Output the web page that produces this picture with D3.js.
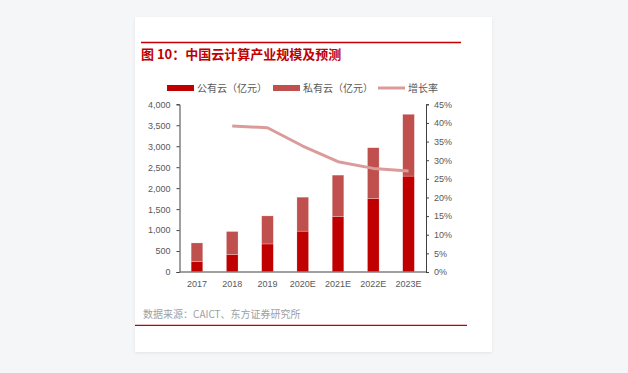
<!DOCTYPE html>
<html>
<head>
<meta charset="utf-8">
<script src="https://cdn.jsdelivr.net/npm/d3@7"></script>
<style>
  html, body { margin: 0; padding: 0; background: #f5f6f8; }
  #card {
    position: absolute; left: 135px; top: 17px; width: 357px; height: 335px;
    background: #fff; box-shadow: 0 1px 3px rgba(0,0,0,0.08);
  }
  svg { position: absolute; left: 0; top: 0; }
  text { font-family: "Noto Sans CJK SC", "Noto Sans", sans-serif; }
</style>
</head>
<body>
<div id="card"></div>
<svg id="chart" width="628" height="373"></svg>
<script>
const years = ['2017', '2018', '2019', '2020E', '2021E', '2022E', '2023E']
const publicCloud = [250, 416, 669, 975, 1325, 1755, 2288]
const privateCloud = [443, 550, 669, 810, 986, 1209, 1474]
const growth = [null, 39.2, 38.7, 33.8, 29.6, 27.8, 27.1]
const leftTicks = [0, 500, 1000, 1500, 2000, 2500, 3000, 3500, 4000]
const rightTicks = [0, 5, 10, 15, 20, 25, 30, 35, 40, 45]

const red = '#c00000'
const red2 = '#c0504d'
const pink = '#dc9b9b'
const grey = '#595959'

const svg = d3.select('#chart')

// title + rules
svg.append('line').attr('x1', 141).attr('x2', 461).attr('y1', 42.5).attr('y2', 42.5)
	.attr('stroke', red).attr('stroke-width', 1.3)
svg.append('text').attr('x', 141).attr('y', 59)
	.attr('fill', red).attr('font-size', 13).attr('font-weight', 'bold')
	.text('图 10：中国云计算产业规模及预测')
svg.append('line').attr('x1', 135).attr('x2', 467).attr('y1', 325.3).attr('y2', 325.3)
	.attr('stroke', red).attr('stroke-width', 1.2)
svg.append('text').attr('x', 143).attr('y', 318)
	.attr('fill', '#a0a0a0').attr('font-size', 10)
	.text('数据来源：CAICT、东方证券研究所')

const x0 = 179.5, x1 = 426, y0 = 272, y1 = 104.3

const x = d3.scaleBand().domain(years).range([x0, x1]).paddingInner(0.67).paddingOuter(0.33)
const y = d3.scaleLinear().domain([0, 4000]).range([y0, y1])
const yr = d3.scaleLinear().domain([0, 45]).range([y0, y1])

// bars
const stackData = years.map((yv, i) => ({ year: yv, pub: publicCloud[i], pri: privateCloud[i] }))
const series = d3.stack().keys(['pub', 'pri'])(stackData)
const colors = [red, red2]

svg.selectAll('g.series')
	.data(series)
	.enter()
	.append('g')
	.attr('class', 'series')
	.attr('fill', (d, i) => colors[i])
	.selectAll('rect')
	.data(d => d)
	.enter()
	.append('rect')
	.attr('x', d => x(d.data.year))
	.attr('width', x.bandwidth())
	.attr('y', d => y(d[1]))
	.attr('height', d => y(d[0]) - y(d[1]))
	.attr('stroke', '#fff').attr('stroke-width', 0.4).attr('stroke-opacity', 0.6)

// growth line
const line = d3.line()
	.defined(d => d != null)
	.x((d, i) => x(years[i]) + x.bandwidth() / 2)
	.y(d => yr(d))
svg.append('path').datum(growth)
	.attr('d', line)
	.attr('fill', 'none').attr('stroke', pink).attr('stroke-width', 3)
	.attr('stroke-linejoin', 'round')

// axes
const axisStyle = g => {
	g.select('.domain').attr('stroke', '#404040')
	g.selectAll('.tick line').attr('stroke', '#404040')
	g.selectAll('text').attr('fill', grey).attr('font-size', 9)
		.style('font-family', '"Liberation Sans", "Noto Sans CJK SC", sans-serif')
}

svg.append('g').attr('transform', `translate(${x0},0)`)
	.call(d3.axisLeft(y).tickValues(leftTicks).tickFormat(d3.format(',')).tickSize(3).tickSizeOuter(3).tickPadding(6))
	.call(axisStyle)

svg.append('g').attr('transform', `translate(${x1},0)`)
	.call(d3.axisRight(yr).tickValues(rightTicks).tickFormat(d => d + '%').tickSize(3).tickSizeOuter(3).tickPadding(5))
	.call(axisStyle)

const xa = svg.append('g').attr('transform', `translate(0,${y0})`)
	.call(d3.axisBottom(x).tickSize(0).tickPadding(9))
	.call(axisStyle)
xa.select('.domain').attr('d', `M${x0},0H${x1}`).attr('stroke', '#808080').attr('stroke-width', 1.5)

// legend
const legendItems = [
	{ label: '公有云（亿元）', color: red, type: 'rect', x: 167 },
	{ label: '私有云（亿元）', color: red2, type: 'rect', x: 273 },
	{ label: '增长率', color: pink, type: 'line', x: 378 },
]
const lg = svg.selectAll('g.legend')
	.data(legendItems)
	.enter()
	.append('g')
	.attr('class', 'legend')
	.attr('transform', d => `translate(${d.x},88)`)
lg.filter(d => d.type === 'rect').append('rect')
	.attr('x', 0).attr('y', -3).attr('width', 27).attr('height', 6).attr('fill', d => d.color)
lg.filter(d => d.type === 'line').append('line')
	.attr('x1', 0).attr('x2', 27).attr('y1', 0).attr('y2', 0)
	.attr('stroke', d => d.color).attr('stroke-width', 3)
lg.append('text').attr('x', 30).attr('y', 3.5)
	.attr('fill', grey).attr('font-size', 10)
	.text(d => d.label)
</script>
</body>
</html>
